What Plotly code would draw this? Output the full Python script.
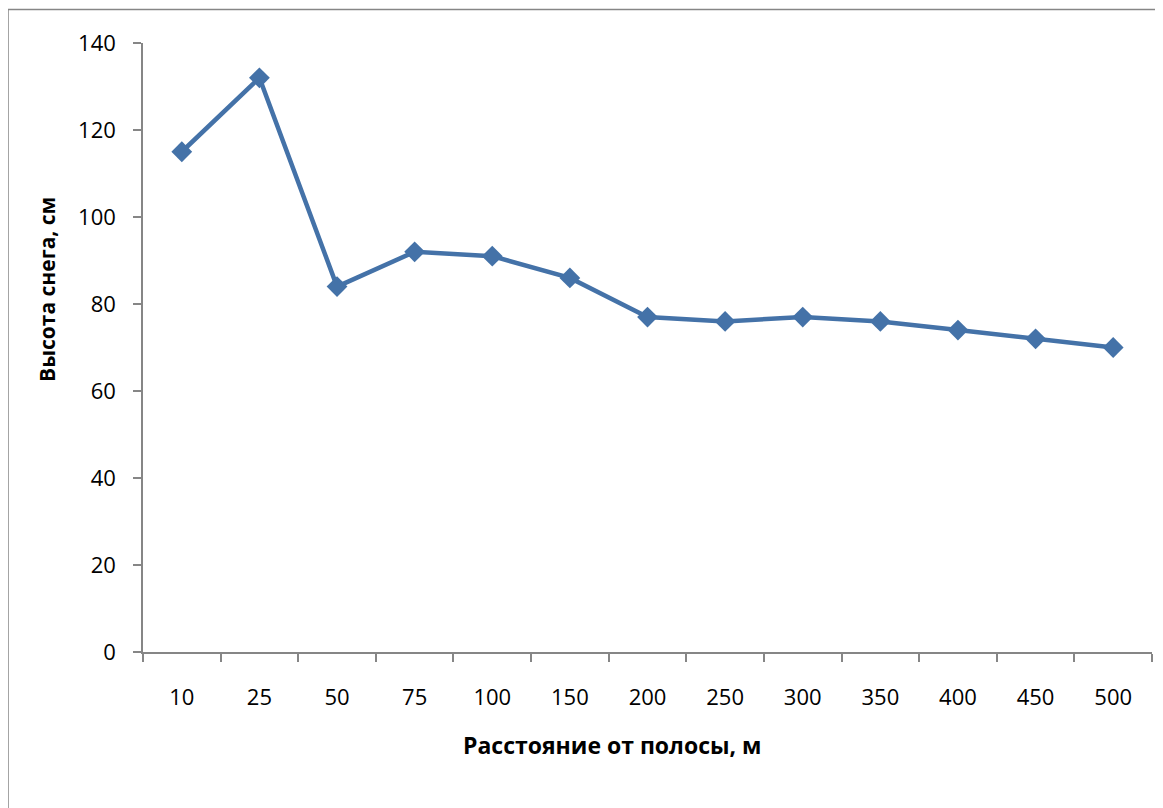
import plotly.graph_objects as go

categories = ["10", "25", "50", "75", "100", "150", "200", "250", "300", "350", "400", "450", "500"]
snow_height = [115, 132, 84, 92, 91, 86, 77, 76, 77, 76, 74, 72, 70]
y_ticks = [0, 20, 40, 60, 80, 100, 120, 140]

axis_color = "#868686"
line_color = "#4472A8"
font_family = "Open Sans, Liberation Sans, sans-serif"

fig = go.Figure()
fig.add_trace(go.Scatter(
    x=categories, y=snow_height, mode="lines+markers",
    line=dict(color=line_color, width=4.5),
    marker=dict(symbol="diamond", size=16, color=line_color),
    showlegend=False, cliponaxis=False,
))

fig.update_layout(
    width=1163, height=808,
    margin=dict(l=135, r=19, t=35, b=164),
    paper_bgcolor="white", plot_bgcolor="white",
    font=dict(family=font_family, size=22, color="black"),
    xaxis=dict(
        type="category", range=[-0.5, 12.5], tickson="boundaries", ticks="outside", ticklen=8,
        tickcolor=axis_color, tickwidth=1.5, showline=True, linecolor=axis_color, linewidth=1.5,
        showgrid=False, ticklabelstandoff=25, automargin=False,
    ),
    yaxis=dict(
        range=[0, 140], tickvals=y_ticks, ticks="outside", ticklen=8,
        tickcolor=axis_color, tickwidth=1.5, showline=True, linecolor=axis_color, linewidth=1.5,
        showgrid=False, zeroline=False, ticklabelstandoff=13, automargin=False,
    ),
)

fig.add_annotation(text="<b>Расстояние от полосы, м</b>", xref="paper", yref="paper",
                   x=0.465, y=-0.1527, xanchor="center", yanchor="middle",
                   showarrow=False, font=dict(size=23))
fig.add_annotation(text="<b>Высота снега, см</b>", xref="paper", yref="paper",
                   x=-0.0952, y=0.596, xanchor="center", yanchor="middle", textangle=-90,
                   showarrow=False, font=dict(size=21))

fig.add_shape(type="rect", xref="paper", yref="paper",
              x0=-0.1338, x1=1.5, y0=-0.6, y1=1.055,
              line=dict(color=axis_color, width=1.5), fillcolor="rgba(0,0,0,0)", layer="below")

fig.write_html("out.html")
